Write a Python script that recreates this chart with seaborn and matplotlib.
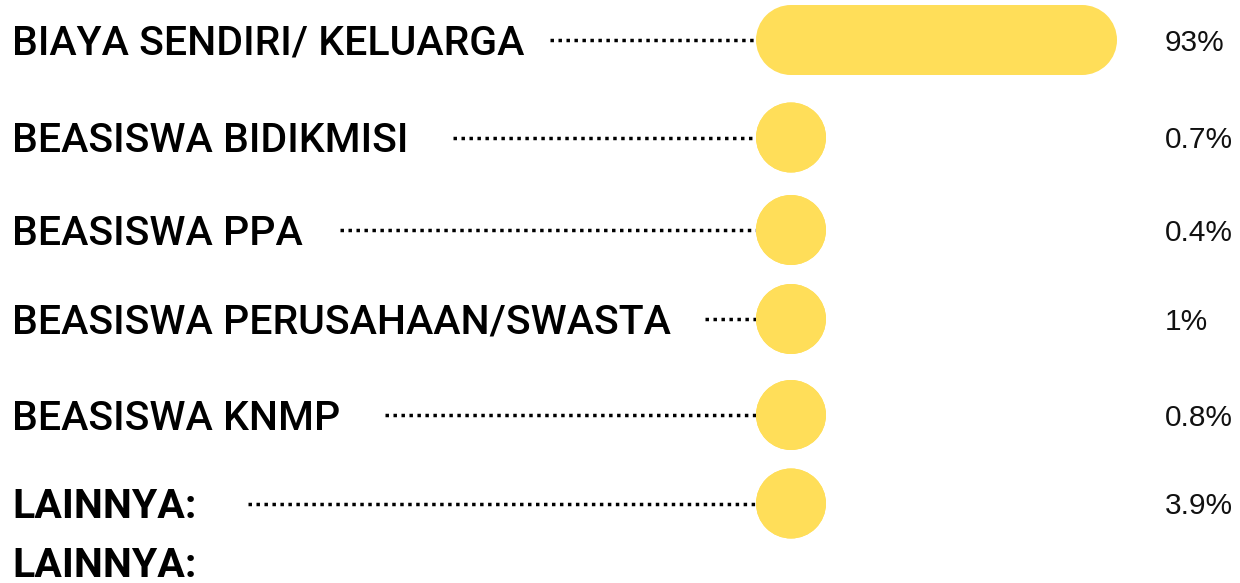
import numpy as np
import pandas as pd
import matplotlib
matplotlib.use("Agg")
import matplotlib.pyplot as plt
import seaborn as sns
from matplotlib.patches import Ellipse

# ---------------- data ----------------
categories = ["BIAYA SENDIRI/ KELUARGA", "BEASISWA BIDIKMISI", "BEASISWA PPA",
              "BEASISWA PERUSAHAAN/SWASTA", "BEASISWA KNMP", "LAINNYA:"]
values = [93, 0.7, 0.4, 1, 0.8, 3.9]
value_labels = ["93%", "0.7%", "0.4%", "1%", "0.8%", "3.9%"]
extra_label = "LAINNYA:"

# ---------------- layout ----------------
W, H = 1240, 583
YELLOW = "#FFDE59"
row_y = [40, 137.5, 230, 319, 415, 503.5]   # pixel centre of each row
extra_y = 562
bar_left = 756                 # pixel x where bars start
px_per_pct = 361 / 93          # bar scale (px per percent)
diam_px = 70                   # bar thickness / circle diameter
dot_start = [550, 453, 340, 705, 385, 248]

sns.set_style("white")
fig = plt.figure(figsize=(W / 100, H / 100), dpi=100)
fig.patch.set_facecolor("white")

# overlay axes in pixel-like coordinates for labels and leader lines
ax = fig.add_axes([0, 0, 1, 1])
ax.set_xlim(0, W)
ax.set_ylim(H, 0)
ax.axis("off")

# bar axes: x in percent, y in row position
bax = fig.add_axes([bar_left / W, 0, (W - bar_left) / W, 1])
min_len = diam_px / px_per_pct
df = pd.DataFrame({"cat": categories, "value": values, "pos": row_y,
                   "shown": np.maximum(np.array(values, float), min_len)})
min_gap = np.min(np.diff(sorted(row_y)))
sns.barplot(data=df, x="shown", y="pos", orient="h", native_scale=True,
            color=YELLOW, saturation=1, width=diam_px / min_gap, ax=bax)
bax.set_xlim(0, (W - bar_left) / px_per_pct)
bax.set_ylim(H, 0)
bax.axis("off")
bax.patch.set_alpha(0)

r = min_len / 2
for p in list(bax.patches):
    x, y, w, h = p.get_x(), p.get_y(), p.get_width(), p.get_height()
    yc = y + h / 2
    p.set_x(x + r)
    p.set_width(max(w - 2 * r, 0))
    p.set_linewidth(0)
    p.set_facecolor(YELLOW)
    for cx in (x + r, x + w - r):
        bax.add_patch(Ellipse((cx, yc), 2 * r, h, facecolor=YELLOW,
                              edgecolor="none", lw=0))

label_font = "Roboto"
lab_size = 29.5
cap_px = lab_size * 100 / 72 * 0.711
pct_size = 21.5
pct_cap = pct_size * 100 / 72 * 0.716

for i, (cat, lab) in enumerate(zip(categories, value_labels)):
    yc = row_y[i]
    bold = cat.startswith("LAINNYA")
    ax.text(12, yc + cap_px / 2, cat, fontsize=lab_size, family=label_font,
            fontweight="bold" if bold else "medium", va="baseline", ha="left",
            color="black")
    ax.plot([dot_start[i], bar_left + 10], [yc, yc], color="black", lw=2.5,
            linestyle=(0, (1, 1.3)), dash_capstyle="butt", zorder=1)
    ax.text(1165, yc + pct_cap / 2, lab, fontsize=pct_size,
            family="Liberation Sans", va="baseline", ha="left", color="#111111")

ax.text(12, extra_y + cap_px / 2, extra_label, fontsize=lab_size, family=label_font,
        fontweight="bold", va="baseline", ha="left", color="black")

fig.savefig("out.png", dpi=100, facecolor="white")
